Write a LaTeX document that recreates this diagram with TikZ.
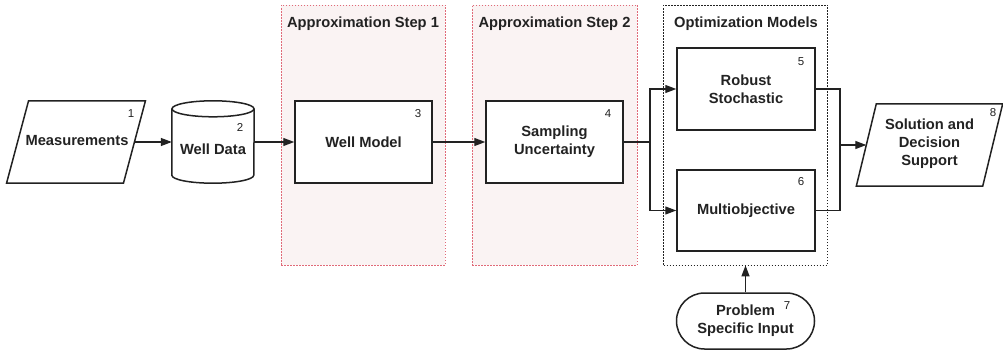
\documentclass[tikz,border=0pt]{standalone}
\usepackage{fontspec}
\setmainfont{Liberation Sans}
\usetikzlibrary{arrows.meta,calc}
\definecolor{ink}{HTML}{222222}
\definecolor{stagefill}{HTML}{FAF3F3}
\definecolor{stageline}{HTML}{E06A78}
\begin{document}
\begin{tikzpicture}[x=1pt,y=-1pt,
  every node/.style={font=\fontsize{14.7}{18}\selectfont\bfseries, text=ink, align=center},
  proc/.style={draw=ink, line width=1.5pt, fill=white, minimum width=137pt, minimum height=82pt, inner sep=0pt},
  ghost/.style={inner sep=0pt},
  shapeline/.style={draw=ink, line width=1.5pt, fill=white},
  num/.style={font=\fontsize{11.5}{13}\selectfont, inner sep=0pt},
  stage/.style={draw=stageline, fill=stagefill, line width=0.8pt, dash pattern=on 1.5pt off 1.5pt, inner sep=0pt, minimum height=260pt},
  optstage/.style={draw=ink, fill=white, line width=0.8pt, dash pattern=on 1.5pt off 1.5pt, inner sep=0pt, minimum height=260pt},
  flow/.style={draw=ink, line width=1.3pt, -{Triangle[length=11pt,width=8pt]}},
  link/.style={draw=ink, line width=1.3pt}
]
\useasboundingbox (0,0) rectangle (1003,350);

% grouping panels
\node[stage, minimum width=164pt] (st1) at (363,135) {};
\node[stage, minimum width=165pt] (st2) at (554.5,135) {};
\node[optstage, minimum width=164pt] (opt) at (745.5,135) {};
\node (t1) at (363,24) {Approximation Step 1};
\node (t2) at (554.5,24) {Approximation Step 2};
\node (t3) at (746,24) {Optimization Models};

% input parallelogram
\node[ghost, minimum width=116.5pt, minimum height=82pt] (meas) at (76,142) {};
\draw[shapeline] ($(meas.north west)+(11,0)$) -- ($(meas.north east)+(11,0)$)
  -- ($(meas.south east)+(-11,0)$) -- ($(meas.south west)+(-11,0)$) -- cycle;
\node (meastext) at (77,141) {Measurements};

% database cylinder
\node[ghost, minimum width=82pt, minimum height=82pt] (wd) at (213,142) {};
\draw[shapeline] ($(wd.north west)+(0,8)$) -- ($(wd.south west)+(0,-8)$)
  arc[start angle=180, end angle=360, x radius=41pt, y radius=8pt]
  -- ($(wd.north east)+(0,8)$);
\draw[shapeline] ($(wd.north)+(0,8)$) ellipse [x radius=41pt, y radius=8pt];
\node (wdtext) at (213,149) {Well Data};

% process boxes
\node[proc] (wm) at (363.5,142) {Well Model};
\node[proc] (su) at (554.5,142) {Sampling\\Uncertainty};
\node[proc, minimum width=138pt] (rs) at (746,89) {Robust\\Stochastic};
\node[proc, minimum width=138pt, minimum height=81pt] (mo) at (746,210.5) {Multiobjective};

% output parallelogram
\node[ghost, minimum width=126pt, minimum height=82pt] (sol) at (929.5,145) {};
\draw[shapeline] ($(sol.north west)+(10,0)$) -- ($(sol.north east)+(10,0)$)
  -- ($(sol.south east)+(-10,0)$) -- ($(sol.south west)+(-10,0)$) -- cycle;
\node (soltext) at (929.5,144) {Solution and\\Decision\\Support};

% terminal
\node[draw=ink, line width=1.5pt, fill=white, rounded corners=28pt,
      minimum width=138pt, minimum height=56pt, inner sep=0pt] (psi) at (745.5,321)
      {Problem\\Specific Input};

% step numbers
\node[num] (n1) at (131,114) {1};
\node[num] (n2) at (240,127) {2};
\node[num] (n3) at (418,114) {3};
\node[num] (n4) at (608,114) {4};
\node[num] (n5) at (801,62) {5};
\node[num] (n6) at (801,182) {6};
\node[num] (n7) at (787,306) {7};
\node[num] (n8) at (993,113) {8};

% connectors
\coordinate (fork) at (650,142);
\coordinate (join) at (840,145);
\draw[flow] (meas.east) -- (wd.west);
\draw[flow] (wd.east) -- (wm.west);
\draw[flow] (wm.east) -- (su.west);
\draw[link] (su.east) -- (fork);
\draw[flow] (fork) |- (rs.west);
\draw[flow] (fork) |- (mo.west);
\draw[link] (rs.east) -| (join);
\draw[link] (mo.east) -| (join);
\draw[flow] (join) -- (sol.west);
\draw[flow] (psi.north) -- (opt.south);
\end{tikzpicture}
\end{document}
